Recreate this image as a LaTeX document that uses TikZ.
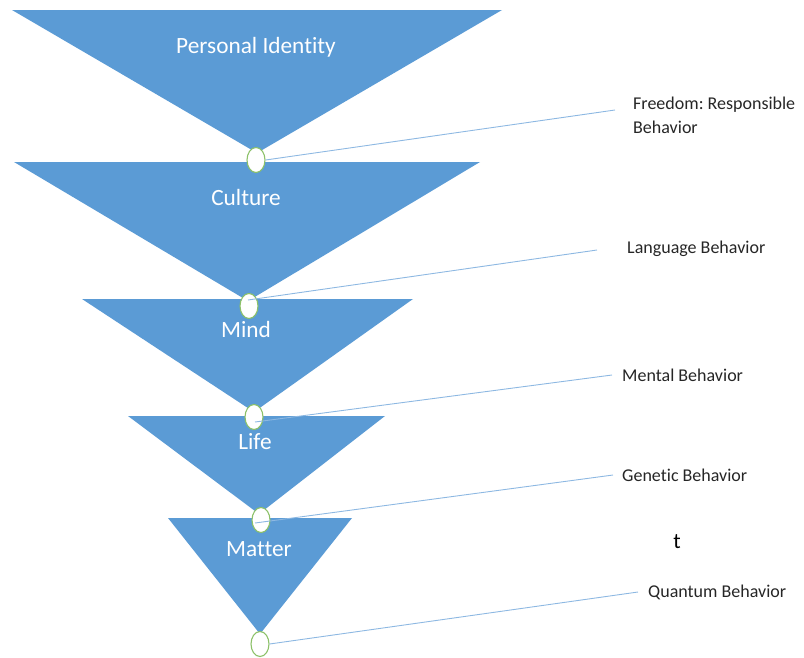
\documentclass[tikz,border=0pt]{standalone}
\usepackage{fontspec}
\setmainfont{Carlito}[Ligatures=NoCommon]
\usetikzlibrary{shapes.geometric}
\definecolor{tribl}{HTML}{5B9BD5}
\definecolor{ringgr}{HTML}{8CC168}
\definecolor{leadbl}{HTML}{8DB8E2}
\frenchspacing
\begin{document}
\begin{tikzpicture}[x=1pt,y=-1pt,
  tri/.style={fill=tribl,draw=none},
  tritext/.style={text=white,font=\fontsize{23.3}{28}\selectfont,inner sep=0pt},
  joint/.style={ellipse,draw=ringgr,line width=1.1pt,fill=white,minimum width=18pt,minimum height=25pt,inner sep=0pt},
  lead/.style={draw=leadbl,line width=0.9pt},
  lbl/.style={anchor=west,inner sep=0pt,text=black!85,font=\fontsize{18}{24}\selectfont,align=left}]
\useasboundingbox (0,0) rectangle (804,657);
% stacked inverted triangles
\fill[tri] (12,10) -- (502,10) -- (257,153) -- cycle;
\fill[tri] (14,162) -- (480,162) -- (248,301) -- cycle;
\fill[tri] (82,299) -- (413,299) -- (254,412) -- cycle;
\fill[tri] (128,416) -- (385,416) -- (259,514) -- cycle;
\fill[tri] (168,518) -- (352,518) -- (260,634) -- cycle;
% level names
\node[tritext] (t1) at (256,47) {Personal Identity};
\node[tritext] (t2) at (246,197) {Culture};
\node[tritext] (t3) at (246,329) {Mind};
\node[tritext] (t4) at (255,442) {Life};
\node[tritext] (t5) at (259,549) {Matter};
% joints between levels
\node[joint] (e1) at (256,160) {};
\node[joint] (e2) at (249,306) {};
\node[joint] (e3) at (254,417) {};
\node[joint] (e4) at (261,520) {};
\node[joint] (e5) at (260,644) {};
% behaviour labels
\node[lbl] (b1) at (633,115) {Freedom: Responsible\\Behavior};
\node[lbl] (b2) at (627,249) {Language Behavior};
\node[lbl] (b3) at (622,375) {Mental Behavior};
\node[lbl] (b4) at (622,475) {Genetic Behavior};
\node[lbl] (b5) at (648,592) {Quantum Behavior};
\node[inner sep=0pt,text=black,font=\fontsize{22}{26}\selectfont] (tt) at (677,542) {t};
% leader line ends
\coordinate (s2) at (248,300);
\coordinate (s3) at (255,422);
\coordinate (s4) at (255,523);
\coordinate (f1) at (615,110);
\coordinate (f2) at (597,250);
\coordinate (f3) at (612,375);
\coordinate (f4) at (613,475);
\coordinate (f5) at (638,592);
% leader lines
\draw[lead] (e1.east) -- (f1);
\draw[lead] (s2) -- (f2);
\draw[lead] (s3) -- (f3);
\draw[lead] (s4) -- (f4);
\draw[lead] (e5.east) -- (f5);
\end{tikzpicture}
\end{document}
